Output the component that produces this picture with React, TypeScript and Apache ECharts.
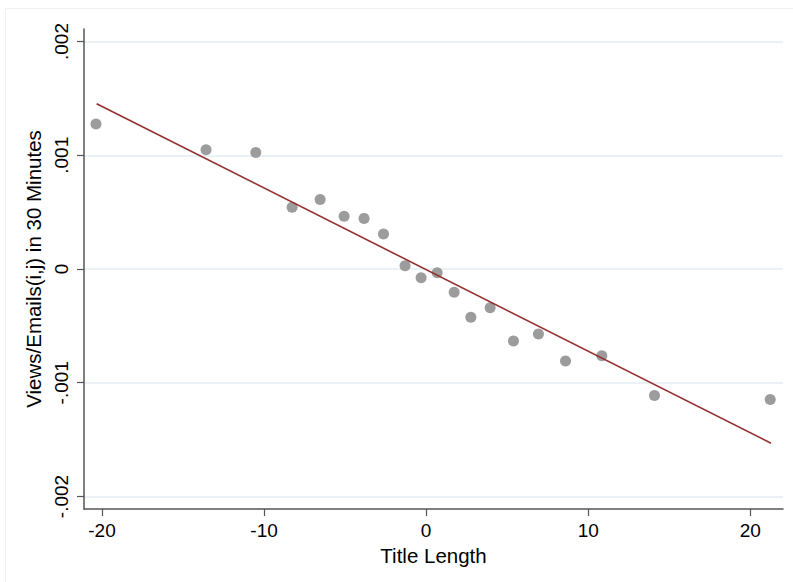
import React, { useEffect, useRef } from "react";
import * as echarts from "echarts";

const pointsX = [-20.37, -13.58, -10.51, -8.27, -6.54, -5.06, -3.83, -2.63, -1.3, -0.31, 0.68, 1.73, 2.76, 3.95, 5.39, 6.93, 8.6, 10.84, 14.09, 21.23];
const pointsY = [0.001274, 0.001048, 0.001025, 0.000542, 0.000612, 0.000463, 0.000445, 0.000308, 0.000029, -0.0000765, -0.0000325, -0.000205, -0.000425, -0.00034, -0.000633, -0.000571, -0.000808, -0.000762, -0.001113, -0.001148];
const fitX = [-20.33, 21.28];
const fitY = [0.001453, -0.001532];
const xTicks = [-20, -10, 0, 10, 20];
const yTicks = [-0.002, -0.001, 0, 0.001, 0.002];
const yTickLabels = ["-.002", "-.001", "0", ".001", ".002"];

const FONT = "Liberation Sans, Arial, Helvetica, sans-serif";

export default function App() {
  const ref = useRef<HTMLDivElement>(null);
  useEffect(() => {
    if (!ref.current) return;
    const chart = echarts.init(ref.current, null, { renderer: "svg" });
    chart.setOption({
      animation: false,
      backgroundColor: "#ffffff",
      textStyle: { fontFamily: FONT },
      graphic: [
        {
          type: "rect",
          shape: { x: 5.5, y: 8.5, width: 820, height: 600 },
          style: { fill: "none", stroke: "#eef2f4", lineWidth: 1 },
          silent: true,
          z: -10,
        },
      ],
      grid: { left: 84, right: 10, top: 29, bottom: 73, containLabel: false },
      xAxis: {
        type: "value",
        min: -21.11,
        max: 22.02,
        name: "Title Length",
        nameLocation: "middle",
        nameGap: 33,
        nameTextStyle: { fontSize: 20.5, color: "#000", fontFamily: FONT },
        axisLine: { show: true, onZero: false, lineStyle: { color: "#555", width: 1.5 } },
        axisTick: { show: true, length: 7, lineStyle: { color: "#555", width: 1.2 }, customValues: xTicks },
        axisLabel: { fontSize: 19, color: "#000", margin: 12, fontFamily: FONT, customValues: xTicks, formatter: (v: number) => String(v) },
        splitLine: { show: false },
      },
      yAxis: {
        type: "value",
        min: -0.00211,
        max: 0.00211,
        name: "Views/Emails(i,j) in 30 Minutes",
        nameLocation: "middle",
        nameGap: 32,
        nameTextStyle: { fontSize: 20.5, color: "#000", fontFamily: FONT },
        axisLine: { show: true, onZero: false, lineStyle: { color: "#555", width: 1.5 } },
        axisTick: { show: true, length: 7, lineStyle: { color: "#555", width: 1.2 }, customValues: yTicks },
        axisLabel: {
          fontSize: 19,
          color: "#000",
          margin: 13,
          rotate: 90,
          fontFamily: FONT,
          customValues: yTicks,
          formatter: (v: number) => {
            const i = yTicks.findIndex((t) => Math.abs(t - v) < 1e-9);
            return i >= 0 ? yTickLabels[i] : "";
          },
        },
        splitLine: { show: true, lineStyle: { color: "#e4edf0", width: 1.5 } },
      },
      series: [
        {
          type: "scatter",
          symbol: "circle",
          symbolSize: 11,
          itemStyle: { color: "#9c9c9c", opacity: 1 },
          data: pointsX.map((x, i) => [x, pointsY[i]]),
          z: 3,
        },
        {
          type: "line",
          data: fitX.map((x, i) => [x, fitY[i]]),
          showSymbol: false,
          symbol: "none",
          lineStyle: { color: "#93302f", width: 1.6 },
          z: 4,
        },
      ],
    });
    return () => chart.dispose();
  }, []);
  return <div ref={ref} style={{ width: 793, height: 582, position: "absolute", left: 0, top: 0 }} />;
}
